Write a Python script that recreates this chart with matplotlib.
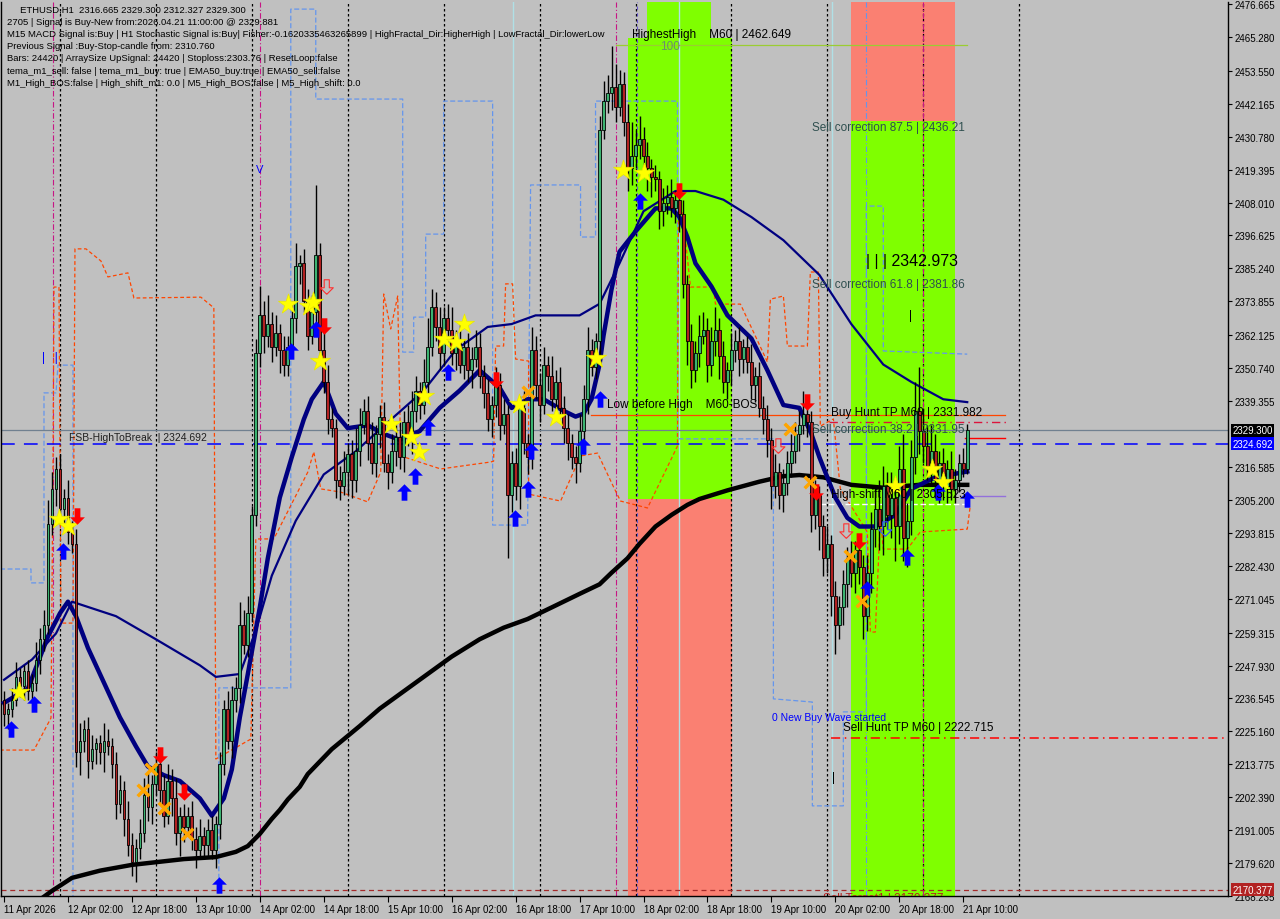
import numpy as np
import matplotlib
matplotlib.use("Agg")
import matplotlib.pyplot as plt
import matplotlib.transforms as mtransforms

plt.rcParams['font.family'] = ['Liberation Sans', 'DejaVu Sans']

# --- candles (ETHUSD H1, bar 0 = 11 Apr 10:00) ---
first_open = 2236
close = [2231, 2233, 2236, 2244, 2241, 2246, 2239, 2242, 2250, 2257, 2262, 2297,
         2309, 2316, 2302, 2306, 2294, 2290, 2218,
         2222, 2226, 2215, 2219, 2221, 2218, 2222, 2220, 2214,
         2200, 2205, 2195, 2186, 2180, 2185,
         2190, 2203, 2199, 2207, 2214,
         2205, 2196, 2208, 2202, 2190, 2196,
         2192, 2196, 2188, 2184, 2189, 2186, 2191, 2184, 2193,
         2214, 2233, 2222, 2236, 2240, 2262, 2255, 2266,
         2300, 2356, 2369,
         2362, 2366, 2358, 2363, 2357, 2352,
         2358, 2368, 2386, 2387, 2374, 2362, 2370, 2390, 2357,
         2346, 2333, 2330, 2312, 2310, 2315, 2321,
         2312, 2322, 2331, 2336, 2325, 2318, 2328,
         2334, 2318, 2315, 2322, 2327,
         2320, 2332, 2327, 2336, 2343, 2338, 2346,
         2358, 2372, 2365, 2356, 2368,
         2364, 2356, 2360, 2352, 2358, 2350, 2354, 2358, 2348,
         2342, 2333, 2338,
         2345, 2331, 2335, 2307, 2318,
         2310, 2337, 2325, 2320,
         2357, 2345, 2338, 2352, 2348, 2340, 2346, 2337,
         2330, 2325, 2320, 2318, 2329,
         2340, 2357, 2351,
         2360, 2433, 2443,
         2446, 2448, 2441, 2449,
         2436, 2420, 2424, 2428,
         2430, 2424, 2420, 2417, 2416,
         2405, 2408, 2410, 2406, 2409, 2404,
         2380, 2360, 2350, 2356, 2362,
         2364, 2352, 2360, 2364, 2355, 2346, 2350, 2357,
         2360, 2354, 2358,
         2353, 2345, 2348, 2337, 2333,
         2326, 2310, 2315, 2307, 2311, 2318,
         2322, 2328, 2331, 2335, 2332,
         2300, 2307, 2296,
         2285, 2290, 2272, 2262, 2268,
         2276, 2285, 2280, 2288, 2282,
         2265, 2280,
         2295, 2302, 2296, 2310, 2300, 2306, 2296,
         2316, 2292, 2298,
         2320, 2336, 2329, 2324,
         2317, 2322,
         2312, 2318, 2310, 2316, 2309, 2312,
         2318, 2316, 2329.3]
wick_up = [3, 2, 4, 5, 3, 2, 4, 3, 6, 4, 5, 8,
           6, 4, 5, 3, 6, 4, 5,
           6, 3, 4, 5, 2, 3, 6, 4, 3,
           4, 5, 3, 6, 4, 3,
           5, 6, 8, 3, 4,
           3, 5, 6, 4, 7, 3,
           4, 3, 5, 4, 6, 3, 4, 5, 3,
           4, 3, 6, 5, 4, 8, 5, 6,
           3, 5, 10,
           5, 10, 4, 6, 3, 5,
           4, 6, 8, 3, 5, 4, 6, 24, 4,
           7, 6, 4, 3, 5, 7, 4,
           5, 8, 6, 4, 5, 7, 3,
           4, 5, 3, 6, 4,
           5, 4, 6, 7, 5, 3, 8,
           10, 6, 5, 7, 4,
           5, 8, 4, 6, 3, 5, 4, 6, 5,
           4, 5, 3,
           6, 4, 5, 3, 4,
           5, 4, 6, 3,
           8, 5, 4, 6, 3, 7, 4, 5,
           4, 5, 3, 4, 6,
           5, 8, 4,
           3, 5, 7,
           6, 14, 8, 5,
           4, 6, 12, 5,
           8, 4, 5, 3, 4,
           3, 5, 4, 6, 3, 4,
           5, 3, 6, 4, 7,
           6, 4, 5, 8, 4, 5, 3, 6,
           4, 5, 3,
           4, 6, 3, 5, 4,
           5, 4, 6, 3, 5, 4,
           6, 4, 5, 8, 6,
           4, 5, 3,
           4, 6, 3, 5, 4,
           5, 4, 6, 3, 5,
           4, 6,
           6, 8, 10, 7, 5, 9, 6,
           8, 12, 6,
           6, 10, 15, 8,
           7, 9,
           6, 4, 5, 3, 6, 4,
           3, 5, 2]
wick_dn = [4, 5, 3, 2, 4, 5, 3, 4, 3, 5, 4, 3,
           4, 6, 3, 5, 4, 3, 5,
           8, 4, 6, 3, 5, 4, 7, 3, 5,
           5, 3, 6, 4, 5, 7,
           4, 3, 5, 6, 4,
           5, 4, 3, 6, 4, 8,
           5, 3, 4, 6, 3, 5, 4, 3, 6,
           5, 4, 3, 6, 4, 5, 3, 4,
           3, 4, 5,
           6, 4, 5, 3, 8, 4,
           4, 3, 5, 6, 4, 5, 3, 4, 3,
           4, 5, 3, 6, 5, 3, 8,
           6, 4, 5, 3, 6, 4, 5,
           5, 3, 6, 4, 5,
           4, 5, 3, 6, 4, 5, 3,
           4, 3, 5, 6, 4,
           5, 4, 6, 3, 5, 4, 6, 3, 4,
           5, 4, 6,
           4, 5, 3, 22, 6,
           5, 8, 4, 6,
           4, 5, 6, 3, 5, 4, 6, 3,
           5, 6, 4, 7, 3,
           4, 5, 3,
           4, 5, 3,
           4, 6, 5, 3,
           5, 8, 6, 4,
           5, 6, 8, 7, 4,
           6, 5, 4, 3, 5, 6,
           5, 8, 6, 4, 5,
           3, 6, 4, 5, 8, 4, 6, 5,
           4, 6, 5,
           4, 5, 6, 3, 5,
           6, 8, 4, 5, 6, 4,
           5, 4, 6, 3, 5,
           6, 5, 8,
           6, 5, 7, 10, 5,
           6, 8, 5, 7, 6,
           8, 5,
           7, 6, 8, 10, 5, 8, 12,
           6, 8, 10,
           5, 6, 8, 6,
           5, 7,
           6, 8, 5, 6, 4, 5,
           4, 3, 2]

# --- moving averages (bar, price) ---
fast_bar = [0, 6, 11, 14, 16, 18, 21, 25, 29, 33, 36, 40, 44, 49, 52, 55, 57, 59, 61, 64, 66, 69,
            72, 75, 77, 80, 83, 86, 91, 95, 99, 104, 109, 114, 119, 124, 127, 131, 135, 140, 143,
            145, 147, 149, 150, 152, 154, 158, 163, 167, 169, 171, 173, 177, 181, 187, 191, 195,
            199, 202, 204, 208, 211, 214, 218, 223, 227, 233, 241]
fast_ma = [2235, 2240, 2258, 2266, 2270, 2265, 2254, 2242, 2230, 2220, 2213, 2210, 2208, 2202, 2196,
           2202, 2212, 2230, 2245, 2268, 2285, 2306, 2320, 2333, 2340, 2346, 2335, 2330, 2331, 2328,
           2326, 2329, 2337, 2343, 2350, 2344, 2337, 2340, 2340, 2336, 2334, 2335, 2340, 2352, 2362,
           2378, 2391, 2398, 2406, 2406, 2403, 2396, 2387, 2379, 2369, 2361, 2350, 2338, 2337, 2328,
           2320, 2306, 2299, 2296, 2296, 2300, 2309, 2313, 2315]
mid_bar = [0, 7, 13, 17, 28, 38, 49, 53, 59, 63, 67, 73, 80, 88, 96, 105, 113, 121, 127, 133, 144,
           149, 154, 160, 168, 173, 180, 187, 195, 204, 212, 220, 227, 235, 241]
mid_ma = [2243, 2250, 2259, 2270, 2265, 2257, 2248, 2244, 2245, 2260, 2279, 2298, 2314, 2322, 2332,
          2343, 2357, 2365, 2366, 2369, 2369, 2373, 2387, 2405, 2412, 2412, 2409, 2403, 2395, 2383,
          2366, 2352, 2346, 2340, 2339]
slow_bar = [8, 12, 17, 24, 32, 45, 53, 58, 61, 64, 67, 69, 71, 74, 76, 82, 89, 94, 99, 106, 112,
            119, 125, 131, 137, 144, 149, 152, 156, 159, 163, 167, 171, 174, 181, 189, 195, 199,
            205, 212, 220, 229, 241]
slow_ma = [2166, 2170, 2174.5, 2177, 2179, 2181, 2181.7, 2183.5, 2185.5, 2189.7, 2194.9, 2198,
           2201.6, 2206, 2210.4, 2219, 2227, 2233, 2238, 2245, 2251, 2257, 2261, 2264, 2268, 2272.7,
           2276, 2280, 2285, 2290, 2296, 2300, 2303.5, 2305.5, 2308.5, 2311.5, 2313.4, 2313.8,
           2313, 2310.4, 2309.4, 2310.4, 2310.4]

# --- step channels (bar, price) ---
blue_step_bar = [-1, 6.75, 6.75, 10, 10, 13, 13.5, 17.25, 17.25, 53.75, 53.75, 71.75, 71.75, 78, 78,
                 99.75, 99.75, 102.5, 102.5, 105.5, 105.5, 110, 110, 122.25, 122.25, 131, 131.75,
                 144.25, 144.25, 148, 148, 168.5, 168.5, 192.5, 192.5, 202.25, 202.25, 210, 210,
                 215.75, 215.75, 220, 220, 241]
blue_step = [2281.3, 2281.3, 2276.5, 2276.5, 2342.2, 2342.2, 2351.8, 2351.8, 2165.5, 2165.5, 2240.2,
             2240.2, 2474.9, 2474.9, 2443.8, 2443.8, 2356.3, 2356.3, 2368.4, 2368.4, 2397.1, 2397.1,
             2443.1, 2443.1, 2296.5, 2296.5, 2414.1, 2414.1, 2396.1, 2396.1, 2443.1, 2443.1, 2326.3,
             2326.3, 2236.4, 2235.3, 2199.4, 2199.4, 2231.9, 2231.9, 2406.8, 2406.8, 2356.7, 2355.6]
red_step_bar = [-1, 7.5, 11.75, 12.25, 12.5, 13.75, 14.25, 17.25, 17.75, 20.5, 24.25, 26, 31, 32.5,
                49.25, 52.5, 53, 61.75, 63, 67.5, 76, 77.5, 79.25, 84.25, 91, 94.25, 95, 96.75, 98.5,
                99.25, 109.25, 121.75, 122.5, 123, 125, 125.5, 127.25, 128, 131.25, 131.25, 139.25,
                144.25, 148.5, 152.5, 154.25, 161, 168.5, 168.75, 169.75, 171.75, 177.5, 178, 184.25,
                187.5, 191, 191.75, 195, 196, 201, 201.75, 203.75, 204.25, 207.5, 209.25, 216, 216.75,
                218, 219.25, 220, 226, 229.25, 241, 241.75]
red_step = [2218.7, 2218.7, 2229.8, 2314.8, 2378.8, 2378.8, 2262.6, 2262.6, 2392.0, 2392.0, 2387.8,
            2382.3, 2383.7, 2375.0, 2375.3, 2371.6, 2215.6, 2222.5, 2291.7, 2291.7, 2314.8, 2321.8,
            2309.0, 2307.9, 2304.5, 2314.8, 2376.4, 2364.3, 2375.7, 2320.4, 2315.9, 2318.3, 2318.6,
            2358.4, 2358.4, 2379.9, 2379.9, 2353.9, 2353.2, 2307.2, 2304.8, 2320.4, 2321.4, 2309.7,
            2304.8, 2302.4, 2323.8, 2405.1, 2405.1, 2378.8, 2378.8, 2372.9, 2372.9, 2363.3, 2352.9,
            2374.6, 2375.7, 2358.4, 2358.4, 2384.0, 2384.0, 2330.7, 2333.2, 2309.0, 2294.1, 2259.5,
            2259.5, 2298.6, 2288.2, 2288.2, 2294.1, 2295.1, 2303.1]

# --- signal markers (bar, price) ---
star_bar = [3.75, 13.75, 16, 71, 76.25, 77.25, 79, 96.75, 101.75, 103.75, 105, 110, 113, 115,
            128.75, 138, 148, 154.75, 160, 223, 232.25, 235]
star_price = [2238.8, 2298.6, 2296.2, 2372.9, 2372.2, 2373.6, 2353.2, 2331.4, 2326.9, 2321.8, 2341.1,
              2360.8, 2359.8, 2366.0, 2338.3, 2333.9, 2354.3, 2419.3, 2418.2, 2310.0, 2315.9, 2311.4]
up_bar = [1.75, 7.5, 14.75, 53.75, 71.75, 78, 100, 102.75, 106, 111, 127.75, 131, 131.75, 144.75,
          149, 159, 216, 226, 233.75, 241]
up_price = [2226.0, 2234.6, 2287.5, 2172.0, 2356.7, 2364.3, 2307.9, 2313.5, 2330.4, 2349.4, 2298.9,
            2309.0, 2322.1, 2323.8, 2340.1, 2408.5, 2274.4, 2285.5, 2307.9, 2305.5]
down_bar = [18.25, 39, 45, 80, 123, 169, 201, 203.25, 214]
down_price = [2299.6, 2217.0, 2204.2, 2365.3, 2346.7, 2412.0, 2339.0, 2307.9, 2291.0]
cross_bar = [34.75, 36.75, 40, 45.75, 131, 196.75, 201.75, 211.75, 214.75]
cross_price = [2204.9, 2212.2, 2198.7, 2189.7, 2342.5, 2329.7, 2311.4, 2285.8, 2270.2]
hollow_dn_bar = [80.75, 193.75, 210.75]
hollow_dn_price = [2378.8, 2323.8, 2294.4]
hollow_up_bar = [220.5]
hollow_up_price = [2295.1]

# --- levels ---
last_price = 2329.300
fsb_level = 2324.692
sell_target = 2170.377
highest_high = 2462.649
low_before_high = 2334.5
buy_hunt_tp = 2331.982
sell_hunt_tp = 2222.715
high_shift = 2303.8
sell_corr_875 = 2436.21

price_ticks = [2476.665, 2465.280, 2453.550, 2442.165, 2430.780, 2419.395, 2408.010, 2396.625,
               2385.240, 2373.855, 2362.125, 2350.740, 2339.355, 2316.585, 2305.200, 2293.815,
               2282.430, 2271.045, 2259.315, 2247.930, 2236.545, 2225.160, 2213.775, 2202.390,
               2191.005, 2179.620, 2168.235]
time_labels = ["11 Apr 2026", "12 Apr 02:00", "12 Apr 18:00", "13 Apr 10:00", "14 Apr 02:00",
               "14 Apr 18:00", "15 Apr 10:00", "16 Apr 02:00", "16 Apr 18:00", "17 Apr 10:00",
               "18 Apr 02:00", "18 Apr 18:00", "19 Apr 10:00", "20 Apr 02:00", "20 Apr 18:00",
               "21 Apr 10:00"]

header = [
    "     ETHUSD,H1  2316.665 2329.300 2312.327 2329.300",
    "2705 | Signal is Buy-New from:2026.04.21 11:00:00 @ 2329.881",
    "M15 MACD Signal is:Buy | H1 Stochastic Signal is:Buy| Fisher:-0.1620335463265899 | "
    "HighFractal_Dir:HigherHigh | LowFractal_Dir:lowerLow",
    "Previous Signal :Buy-Stop-candle from: 2310.760",
    "Bars: 24420 | ArraySize UpSignal: 24420 | Stoploss:2303.76 | ResetLoop:false",
    "tema_m1_sell: false | tema_m1_buy: true | EMA50_buy:true | EMA50_sell:false",
    "M1_High_BOS:false | High_shift_m1: 0.0 | M5_High_BOS:false | M5_High_shift: 0.0",
]

BG = "#C0C0C0"
fig = plt.figure(figsize=(12.8, 9.2), dpi=100, facecolor=BG)
ax = fig.add_axes([0.0008, 1 - 897 / 920, 1227 / 1280, 894 / 920])
ax.set_facecolor(BG)
ax.set_xlim(-0.75, 306.25)
ax.set_ylim(2168.235, 2477.36)

n = min(len(close), len(wick_up), len(wick_dn))
c = np.array(close[:n], dtype=float)
o = np.r_[first_open, c[:-1]]
hi = np.maximum(o, c) + np.array(wick_up[:n])
lo = np.minimum(o, c) - np.array(wick_dn[:n])
bars = np.arange(n)

# zones
ax.fill_between([161, 177], 2464.9, 2480, color="#7FFF00", lw=0, zorder=0)
ax.fill_between([156, 182.25], 2305.5, 2464.9, color="#7FFF00", lw=0, zorder=0)
ax.fill_between([156, 182.25], 2160, 2305.5, color="#FA8072", lw=0, zorder=0)
ax.fill_between([212, 238], sell_corr_875, 2480, color="#FA8072", lw=0, zorder=0)
ax.fill_between([212, 238], 2160, sell_corr_875, color="#7FFF00", lw=0, zorder=0)

# vertical separators
for b in range(14, 260, 24):
    ax.axvline(b, color="black", lw=0.9, ls=(0, (2, 2)), zorder=1)
for b in [12.25, 64, 153, 230]:
    ax.axvline(b, color="#C71585", lw=0.8, ls=(0, (5, 2, 1, 2)), zorder=1)
ax.axvline(158.25, color="#6A5ACD", lw=0.8, ls=(0, (3, 3)), zorder=1)
for b in [127.25, 169, 207.25]:
    ax.axvline(b, color="#B0E0E6", lw=1.0, zorder=1)
ax.axvline(215.75, color="#6495ED", lw=0.8, ls=(0, (5, 2, 1, 2)), zorder=1)

# step channels
ax.plot(blue_step_bar, blue_step, color="#6495ED", lw=0.9, ls=(0, (4, 2)), zorder=2)
ax.plot(red_step_bar, red_step, color="#FF4500", lw=0.9, ls=(0, (3, 2)), zorder=2)

# horizontal levels
ax.axhline(last_price, color="#708090", lw=0.9, zorder=2)
ax.axhline(fsb_level, color="#0000FF", lw=1.1, ls=(0, (9, 6)), zorder=2)
ax.axhline(sell_target, color="#A52A2A", lw=0.9, ls=(0, (4, 3)), zorder=2)
ax.plot([153, 241], [highest_high] * 2, color="#9ACD32", lw=0.9, zorder=2)
ax.plot([146.75, 250.5], [low_before_high] * 2, color="#FF4500", lw=0.9, zorder=2)
ax.plot([206.5, 251], [buy_hunt_tp] * 2, color="#DC143C", lw=1.0, ls=(0, (6, 3, 1, 3)), zorder=2)
ax.plot([207, 306.25], [sell_hunt_tp] * 2, color="#FF0000", lw=1.1, ls=(0, (6, 3, 1, 3)), zorder=2)
ax.plot([204.25, 241], [high_shift] * 2, color="white", lw=1.0, ls=(0, (4, 2)), zorder=2)
ax.plot([240.5, 250.5], [2326.6] * 2, color="#FF0000", lw=1.0, zorder=2)
ax.plot([241, 250.5], [2306.5] * 2, color="#9370DB", lw=1.0, zorder=2)

# moving averages
ax.plot(slow_bar, slow_ma, color="black", lw=3.2, zorder=3, solid_joinstyle="round")
ax.plot(mid_bar, mid_ma, color="#000080", lw=1.6, zorder=3, solid_joinstyle="round")
ax.plot(fast_bar, fast_ma, color="#000080", lw=3.2, zorder=3, solid_joinstyle="round")

# candles
up = c >= o
ax.vlines(bars, lo, hi, color="black", lw=1.0, zorder=4)
body_lo = np.minimum(o, c)
body_h = np.maximum(np.abs(c - o), 0.4)
ax.bar(bars[up], body_h[up], bottom=body_lo[up], width=0.7, color="#3CB371",
       edgecolor="black", lw=0.6, zorder=4)
ax.bar(bars[~up], body_h[~up], bottom=body_lo[~up], width=0.7, color="#B22222",
       edgecolor="black", lw=0.6, zorder=4)

# signals
arrow_up = [(0, 1), (-0.9, 0.1), (-0.35, 0.1), (-0.35, -1), (0.35, -1), (0.35, 0.1), (0.9, 0.1), (0, 1)]
arrow_dn = [(x, -y) for x, y in arrow_up]
ax.scatter(star_bar, star_price, marker="*", s=230, color="#FFFF00", edgecolors="#E8E800",
           lw=0.5, zorder=5)
ax.scatter(up_bar, up_price, marker=arrow_up, s=140, color="#0000FF", lw=0, zorder=5)
ax.scatter(down_bar, down_price, marker=arrow_dn, s=140, color="#FF0000", lw=0, zorder=5)
ax.scatter(cross_bar, cross_price, marker="x", s=70, color="#FFA500", lw=2.5, zorder=5)
ax.scatter(hollow_dn_bar, hollow_dn_price, marker=arrow_dn, s=110, facecolors="none",
           edgecolors="#FF3030", lw=0.8, zorder=5)
ax.scatter(hollow_up_bar, hollow_up_price, marker=arrow_dn, s=110, facecolors="none",
           edgecolors="#3050FF", lw=0.8, zorder=5)

# chart labels
lab = dict(fontsize=8.5, va="center", ha="left", zorder=6)
ax.text(16.25, 2326.9, "FSB-HighToBreak  | 2324.692", color="#202020", **{**lab, "fontsize": 7.5})
ax.text(157, 2466.3, "HighestHigh    M60 | 2462.649", color="black", **lab)
ax.text(164.25, 2462.0, "100", color="#6B8E6B", **lab)
ax.text(202.25, 2434.1, "Sell correction 87.5 | 2436.21", color="#2F4F4F", **lab)
ax.text(215.75, 2388.1, "| | | 2342.973", color="black", **{**lab, "fontsize": 11.5})
ax.text(202.25, 2379.8, "Sell correction 61.8 | 2381.86", color="#2F4F4F", **lab)
ax.text(226.5, 2369.0, "|", color="black", **lab)
ax.text(150.75, 2338.3, "Low before High    M60-BOS", color="black", **lab)
ax.text(207, 2335.6, "Buy Hunt TP M60 | 2331.982", color="black", **lab)
ax.text(202.25, 2329.7, "Sell correction 38.2 | 2331.95", color="#2F4F4F", **lab)
ax.text(207, 2307.2, "High-shift M60 | 2305.523", color="black", **lab)
ax.text(192.25, 2230.1, "0 New Buy Wave started", color="#0000FF", **{**lab, "fontsize": 7.5})
ax.text(210, 2226.7, "Sell Hunt TP M60 | 2222.715", color="black", **lab)
ax.text(205, 2167.6, "Sell Target1 | 2170.377", color="#B22222", clip_on=True, **lab)
ax.text(64, 2419.6, "V", color="#0000FF", **{**lab, "fontsize": 8, "ha": "center"})
ax.text(9.5, 2354.6, "|   |", color="#0000FF", **lab)
ax.text(207.25, 2209.4, "|", color="black", **lab)

# axes styling
for s in ax.spines.values():
    s.set_color("black")
    s.set_linewidth(1)
ax.spines["top"].set_visible(False)
ax.yaxis.tick_right()
ax.set_yticks(price_ticks)
ax.set_yticklabels([f"{p:.3f}" for p in price_ticks])
ax.set_xticks(range(0, 16 * len(time_labels), 16))
ax.set_xticklabels(time_labels, ha="left")
ax.tick_params(axis="y", direction="out", length=3, width=0.8, labelsize=7, pad=2, colors="black")
ax.tick_params(axis="x", direction="out", length=4, width=0.8, labelsize=7, pad=2, colors="black")

# price boxes on the right scale
tr = mtransforms.blended_transform_factory(ax.transAxes, ax.transData)
for val, fc in [(last_price, "black"), (fsb_level, "#0000FF"), (sell_target, "#B22222")]:
    ax.text(1.0035, val, f"{val:.3f}", transform=tr, fontsize=7, color="white", va="center",
            ha="left", zorder=7, clip_on=False,
            bbox=dict(boxstyle="square,pad=0.15", facecolor=fc, edgecolor="none"))

# header lines
for i, line in enumerate(header):
    fig.text(7 / 1280, 1 - (10 + 12.2 * i) / 920, line, fontsize=6.8, color="black",
             va="center", ha="left")

fig.savefig("out.png", dpi=100, facecolor=BG)
